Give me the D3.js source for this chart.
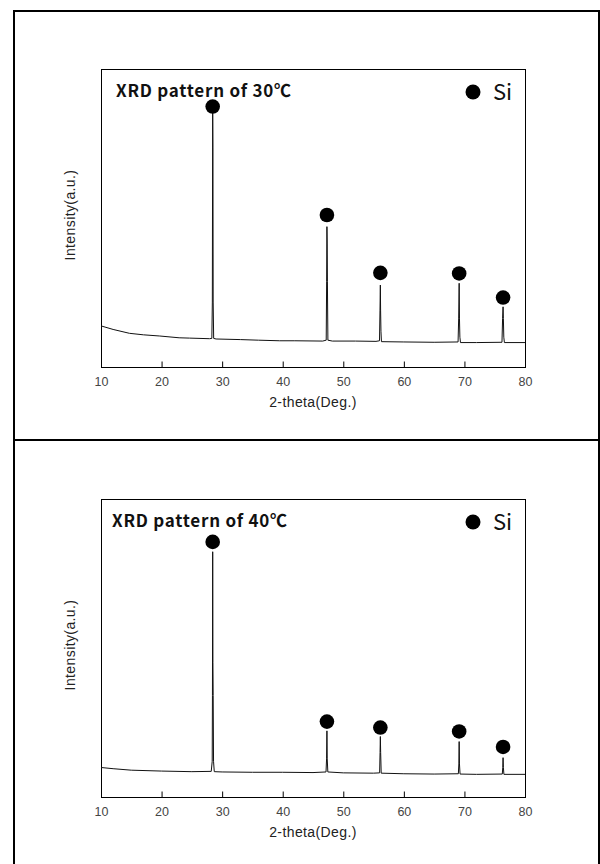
<!DOCTYPE html>
<meta charset='utf-8'>
<style>
  body { margin:0; background:#fff; }
  svg { display:block; }
  .frame { fill:none; stroke:#000; stroke-width:1px; }
  .pattern { fill:none; stroke:#111; stroke-width:1px; stroke-linejoin:round; }
  .tick text { font-family:'Liberation Sans', Arial, sans-serif; font-size:12.5px; fill:#444; }
  .label { font-family:'Liberation Sans', Arial, sans-serif; font-size:14px; fill:#222; letter-spacing:0.4px; }
  .title { font-family:'Noto Sans CJK KR', 'Open Sans', sans-serif; font-size:17px; font-weight:bold; fill:#111; }
  .legend { font-family:'Noto Sans CJK KR', 'Open Sans', sans-serif; font-size:22px; fill:#111; }
</style>
<body>
<script src='https://cdnjs.cloudflare.com/ajax/libs/d3/7.8.5/d3.min.js'></script>
<script>
  // data ----------------------------------------------------------------
  var titles = ['XRD pattern of 30\u2103', 'XRD pattern of 40\u2103'];
  var phase = 'Si';
  var xTicks = [10, 20, 30, 40, 50, 60, 70, 80];

  // [2-theta, intensity (a.u.)]
  var pattern30 = [
    [10, 138], [12, 126], [14.7, 113], [17, 108], [19.7, 104], [22.9, 98], [24.6, 97],
    [27.9, 95], [28.3, 96], [28.38, 218], [28.44, 852], [28.48, 738], [28.52, 218], [28.6, 96],
    [29, 94], [33, 92], [36, 90], [39.5, 88], [42, 88], [46.6, 87],
    [47.18, 90], [47.25, 286], [47.3, 471], [47.34, 416], [47.38, 286], [47.46, 90],
    [48.2, 87], [52, 87], [55.4, 86],
    [55.98, 88], [56.06, 191], [56.12, 275], [56.16, 191], [56.22, 120], [56.3, 85],
    [60, 84], [65, 83],
    [68.95, 84], [69.05, 164], [69.13, 281], [69.18, 164], [69.25, 100], [69.35, 82],
    [72, 82],
    [76.2, 83], [76.3, 163], [76.38, 202], [76.43, 163], [76.5, 100], [76.6, 82],
    [80, 82]
  ];
  var pattern40 = [
    [10, 99], [12, 95], [15, 90], [20, 87], [25, 85],
    [28.2, 86], [28.36, 120], [28.4, 340], [28.44, 823], [28.48, 452], [28.52, 340], [28.58, 120], [28.7, 85],
    [30, 84], [35, 83], [40, 83], [45, 82],
    [47.15, 84], [47.24, 128], [47.3, 222], [47.35, 128], [47.45, 84],
    [50, 81], [55, 80],
    [56, 81], [56.07, 149], [56.12, 203], [56.17, 149], [56.26, 80],
    [60, 78], [65, 77],
    [69, 78], [69.08, 111], [69.13, 186], [69.18, 111], [69.28, 77],
    [72, 76],
    [76.25, 77], [76.33, 99], [76.38, 132], [76.43, 99], [76.52, 76],
    [80, 76]
  ];
  // Si peak markers [2-theta, marker height]
  var marks30 = [[28.44, 874], [47.3, 510], [56.12, 316], [69.13, 314], [76.38, 233]];
  var marks40 = [[28.44, 856], [47.3, 253], [56.12, 233], [69.13, 220], [76.38, 168]];

  var patterns = [pattern30, pattern40];
  var marks = [marks30, marks40];

  // layout --------------------------------------------------------------
  var width = 600, height = 864;
  var panelY = [0, 430];
  var titleX = [116, 112];
  var plot = {left:101, right:525, top:69, bottom:367};

  var svg = d3.select('body').append('svg')
    .attr('width', width)
    .attr('height', height);

  // outer table-like frame
  svg.append('path')
    .attr('d', 'M14,864V11H599V864M14,440H599')
    .attr('fill', 'none')
    .attr('stroke', '#000')
    .attr('stroke-width', 2);

  var x = d3.scaleLinear().domain([10, 80]).range([plot.left, plot.right]);
  var y = d3.scaleLinear().domain([0, 1000]).range([plot.bottom, plot.top]);
  var line = d3.line().x(function(d) { return x(d[0]); }).y(function(d) { return y(d[1]); });

  patterns.forEach(function(data, i) {
    var g = svg.append('g').attr('transform', 'translate(0,' + panelY[i] + ')');

    g.append('rect')
      .attr('class', 'frame')
      .attr('x', plot.left + 0.5)
      .attr('y', plot.top + 0.5)
      .attr('width', plot.right - plot.left)
      .attr('height', plot.bottom - plot.top);

    var axis = g.append('g')
      .attr('transform', 'translate(0,' + (plot.bottom + 0.5) + ')')
      .call(d3.axisBottom(x).tickValues(xTicks).tickSizeInner(-6).tickSizeOuter(0).tickPadding(10));
    axis.select('.domain').remove();
    axis.selectAll('.tick line').attr('stroke', '#000');

    g.append('text')
      .attr('class', 'label')
      .attr('x', (plot.left + plot.right) / 2)
      .attr('y', plot.bottom + 40)
      .attr('text-anchor', 'middle')
      .text('2-theta(Deg.)');

    g.append('text')
      .attr('class', 'label')
      .attr('transform', 'translate(75,' + 215 + ') rotate(-90)')
      .attr('text-anchor', 'middle')
      .text('Intensity(a.u.)');

    g.append('path')
      .datum(data)
      .attr('class', 'pattern')
      .attr('d', line);

    g.selectAll('circle.mark')
      .data(marks[i])
      .enter().append('circle')
      .attr('class', 'mark')
      .attr('cx', function(d) { return x(d[0]); })
      .attr('cy', function(d) { return y(d[1]); })
      .attr('r', 7.3)
      .attr('fill', '#000');

    g.append('text')
      .attr('class', 'title')
      .attr('x', titleX[i])
      .attr('y', 97)
      .attr('textLength', 175)
      .attr('lengthAdjust', 'spacing')
      .text(titles[i]);

    g.append('circle')
      .attr('cx', 473)
      .attr('cy', 92)
      .attr('r', 7.5)
      .attr('fill', '#000');

    g.append('text')
      .attr('class', 'legend')
      .attr('x', 493)
      .attr('y', 100)
      .text(phase);
  });
</script>
</body>
